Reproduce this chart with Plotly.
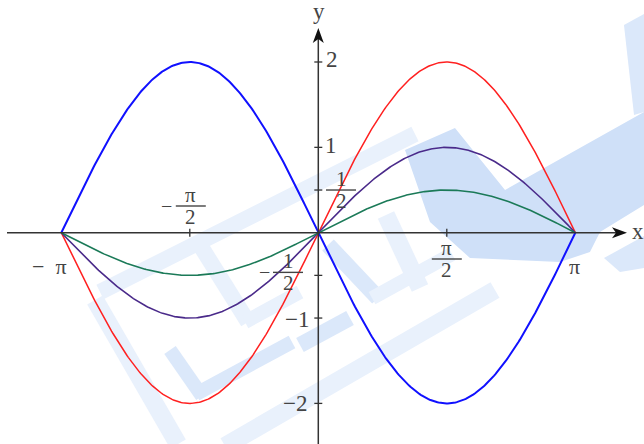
import numpy as np
import plotly.graph_objects as go

# curves y = a * sin(x) on [-pi, pi]
amplitudes = [-2.0, 2.0, 1.0, 0.5]
colors = ["#1010ff", "#ff2020", "#4a2a8a", "#1b7a58"]
widths = [2.0, 1.5, 1.6, 1.6]

# axis tick positions and labels
x_ticks = [-np.pi / 2, np.pi / 2]
y_ticks = [-2, -1, -0.5, 0.5, 1, 2]
x_plain_labels = [(-np.pi, "−  π"), (np.pi, "π")]
y_plain_labels = [(2, "2"), (1, "1"), (-1, "−1"), (-2, "−2")]

W, H = 644, 444
X0, Y0 = 318.3, 232.7          # origin in pixels
SX, SY = 257.0 / np.pi, 85.35  # pixels per unit
xr = [(0 - X0) / SX, (W - X0) / SX]
yr = [-(H - Y0) / SY, Y0 / SY]


def px(x):
    return X0 + x * SX


def py(y):
    return Y0 - y * SY


def pap(x, y):
    return x / W, 1 - y / H


FONT = "Liberation Serif, Times New Roman, serif"
TXT = "#444444"
AX = "#333333"

fig = go.Figure()
xs = np.linspace(-np.pi, np.pi, 400)
for a, c, w in zip(amplitudes, colors, widths):
    fig.add_trace(go.Scatter(x=xs, y=a * np.sin(xs), mode="lines",
                             line=dict(color=c, width=w), hoverinfo="skip"))

shapes = []
annotations = []


def poly(pts):
    return "M " + " L ".join(f"{pap(x, y)[0]:.4f},{pap(x, y)[1]:.4f}" for x, y in pts) + " Z"


def strip(p0, p1, w):
    (x0, y0), (x1, y1) = p0, p1
    dx, dy = x1 - x0, y1 - y0
    n = np.hypot(dx, dy)
    nx, ny = -dy / n * w / 2, dx / n * w / 2
    return [(x0 + nx, y0 + ny), (x1 + nx, y1 + ny), (x1 - nx, y1 - ny), (x0 - nx, y0 - ny)]


# faint watermark behind the plot (pixel outlines)
STRONG, MID, LIGHT = "#cfe0f8", "#dbe8fa", "#e9f1fc"
wm = [
    (strip((100, 292), (415, 134), 16), LIGHT),
    (strip((95, 300), (178, 444), 18), LIGHT),
    (strip((225, 446), (495, 290), 18), LIGHT),
    ([(405, 150), (455, 128), (505, 190), (644, 112), (644, 205), (600, 232),
      (590, 252), (560, 262), (470, 258), (430, 222)], STRONG),
    ([(624, 25), (644, 14), (644, 112), (634, 115)], MID),
    ([(604, 258), (644, 236), (644, 268), (620, 272)], MID),
    (strip((170, 350), (202, 396), 14), MID),
    (strip((196, 394), (292, 342), 14), MID),
    (strip((200, 245), (248, 322), 16), LIGHT),
    (strip((245, 322), (300, 292), 14), LIGHT),
    (strip((328, 245), (378, 298), 16), MID),
    (strip((372, 298), (452, 254), 14), LIGHT),
    (strip((300, 345), (350, 318), 16), MID),
    (strip((386, 215), (420, 288), 18), LIGHT),
]
for pts, col in wm:
    shapes.append(dict(type="path", xref="paper", yref="paper", path=poly(pts),
                       fillcolor=col, line=dict(width=0), layer="below"))

# axes lines
shapes.append(dict(type="line", xref="paper", yref="paper",
                   x0=pap(7, Y0)[0], y0=pap(7, Y0)[1], x1=pap(616, Y0)[0], y1=pap(616, Y0)[1],
                   line=dict(color=AX, width=1.5)))
shapes.append(dict(type="line", xref="paper", yref="paper",
                   x0=pap(X0, H)[0], y0=pap(X0, H)[1], x1=pap(X0, 38)[0], y1=pap(X0, 38)[1],
                   line=dict(color=AX, width=1.5)))

# arrow heads
shapes.append(dict(type="path", xref="paper", yref="paper",
                   path=poly([(627, Y0), (612, Y0 - 5.5), (616, Y0), (612, Y0 + 5.5)]),
                   fillcolor="#111111", line=dict(width=0)))
shapes.append(dict(type="path", xref="paper", yref="paper",
                   path=poly([(X0, 28), (X0 - 5.5, 43), (X0, 39), (X0 + 5.5, 43)]),
                   fillcolor="#111111", line=dict(width=0)))

# tick marks
for t in x_ticks:
    shapes.append(dict(type="line", xref="paper", yref="paper",
                       x0=pap(px(t), Y0 - 4)[0], y0=pap(px(t), Y0 - 4)[1],
                       x1=pap(px(t), Y0 + 4)[0], y1=pap(px(t), Y0 + 4)[1],
                       line=dict(color=AX, width=1.3)))
for t in y_ticks:
    shapes.append(dict(type="line", xref="paper", yref="paper",
                       x0=pap(X0 - 4, py(t))[0], y0=pap(X0 - 4, py(t))[1],
                       x1=pap(X0 + 4, py(t))[0], y1=pap(X0 + 4, py(t))[1],
                       line=dict(color=AX, width=1.3)))


def label(x, y, text, size=22, color=TXT):
    xp, yp = pap(x, y)
    annotations.append(dict(x=xp, y=yp, xref="paper", yref="paper", text=text,
                            showarrow=False, xanchor="center", yanchor="middle",
                            font=dict(family=FONT, size=size, color=color)))


def hline(x0, x1, y):
    shapes.append(dict(type="line", xref="paper", yref="paper",
                       x0=pap(x0, y)[0], y0=pap(x0, y)[1], x1=pap(x1, y)[0], y1=pap(x1, y)[1],
                       line=dict(color=TXT, width=1.4)))


def frac(cx, cy, num, den, minus=False, half=15):
    label(cx, cy - 11, num, 21)
    label(cx, cy + 11, den, 21)
    hline(cx - half, cx + half, cy)
    if minus:
        label(cx - half - 9, cy, "−", 20)


# x labels
label(50, 266, x_plain_labels[0][1], 22)
label(574, 266, x_plain_labels[1][1], 22)
frac(px(np.pi / 2), 259, "π", "2")
frac(px(-np.pi / 2) + 1, 206, "π", "2", minus=True)

# y labels
label(332, py(2) - 2, y_plain_labels[0][1], 23)
label(331, py(1) - 2, y_plain_labels[1][1], 23)
label(297, py(-1) + 1, y_plain_labels[2][1], 23)
label(295, py(-2), y_plain_labels[3][1], 23)
frac(341, py(0.5), "1", "2")
frac(288, py(-0.5) - 3, "1", "2", minus=True)

# axis names
label(638, 231, "x", 23)
label(319, 12, "y", 23)

fig.update_layout(
    width=W, height=H, margin=dict(l=0, r=0, t=0, b=0),
    paper_bgcolor="white", plot_bgcolor="white", showlegend=False,
    xaxis=dict(range=xr, visible=False, fixedrange=True),
    yaxis=dict(range=yr, visible=False, fixedrange=True),
    shapes=shapes, annotations=annotations,
)
fig.write_html("out.html")
